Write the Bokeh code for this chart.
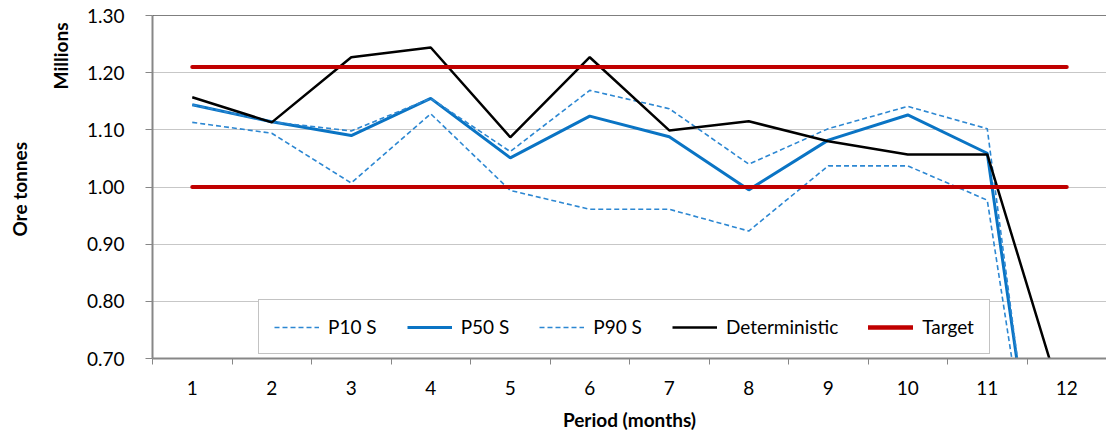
from bokeh.embed import file_html
from bokeh.models import FixedTicker, NumeralTickFormatter, Range1d, Span, Title
from bokeh.plotting import figure
from bokeh.resources import INLINE

# Monthly ore tonnes (millions) by scenario
periods = [1, 2, 3, 4, 5, 6, 7, 8, 9, 10, 11, 12]
p10_s = [1.113, 1.094, 1.007, 1.128, 0.994, 0.961, 0.961, 0.923, 1.037, 1.037, 0.977, 0.08]
p50_s = [1.144, 1.114, 1.090, 1.155, 1.051, 1.124, 1.088, 0.995, 1.082, 1.126, 1.059, 0.09]
p90_s = [1.144, 1.114, 1.098, 1.155, 1.062, 1.169, 1.137, 1.040, 1.102, 1.141, 1.102, 0.04]
deterministic = [1.157, 1.113, 1.227, 1.244, 1.087, 1.227, 1.099, 1.115, 1.080, 1.057, 1.057, 0.60]
target_upper = [1.21, 1.21, 1.21, 1.21, 1.21, 1.21, 1.21, 1.21, 1.21, 1.21, 1.21, 1.21]
target_lower = [1.00, 1.00, 1.00, 1.00, 1.00, 1.00, 1.00, 1.00, 1.00, 1.00, 1.00, 1.00]

y_ticks = [0.70, 0.80, 0.90, 1.00, 1.10, 1.20, 1.30]
x_bounds = [0.5, 1.5, 2.5, 3.5, 4.5, 5.5, 6.5, 7.5, 8.5, 9.5, 10.5, 11.5, 12.5]

FONT = "Lato"
AXIS_GREY = "#878787"
BLUE = "#0A74C4"
BLUE_DASH = "#2C87D2"

p = figure(
    width=1106, height=433,
    output_backend="svg", toolbar_location=None,
    x_range=Range1d(0.5, 12.5), y_range=Range1d(0.70, 1.30),
    min_border_left=152, min_border_right=0,
    min_border_top=15, min_border_bottom=74,
)
p.outline_line_color = None
p.background_fill_color = "white"
p.border_fill_color = "white"

# grid
p.xgrid.visible = False
p.ygrid.ticker = FixedTicker(ticks=y_ticks)
p.ygrid.grid_line_color = "#8f8f8f"
p.ygrid.grid_line_dash = "1 1"
p.ygrid.grid_line_width = 1

# y axis
ya = p.yaxis[0]
ya.ticker = FixedTicker(ticks=y_ticks)
ya.formatter = NumeralTickFormatter(format="0.00")
ya.axis_line_color = AXIS_GREY
ya.axis_line_width = 2
ya.major_tick_line_color = AXIS_GREY
ya.major_tick_out = 7
ya.major_tick_in = 0
ya.minor_tick_line_color = None
ya.major_label_standoff = 21
ya.major_label_text_font = FONT
ya.major_label_text_font_size = "19px"
ya.major_label_text_color = "black"

# unit label next to the tick labels, then the quantity label further out
title_style = dict(text_font=FONT, text_font_style="bold", text_font_size="19px",
                   text_color="black", vertical_align="middle")
p.add_layout(Title(text="Millions", align="right", offset=7, standoff=21, **title_style), "left")
p.add_layout(Title(text="Ore  tonnes", align="center", standoff=11, **title_style), "left")

# x axis: labels at month centres, tick marks between months
xa = p.xaxis[0]
xa.ticker = FixedTicker(ticks=periods, minor_ticks=x_bounds)
xa.axis_line_color = AXIS_GREY
xa.axis_line_width = 2
xa.major_tick_line_color = None
xa.major_tick_out = 0
xa.major_tick_in = 0
xa.minor_tick_line_color = AXIS_GREY
xa.minor_tick_out = 6
xa.minor_tick_in = 0
xa.major_label_standoff = 16
xa.major_label_text_font = FONT
xa.major_label_text_font_size = "19px"
xa.major_label_text_color = "black"
xa.axis_label = "Period (months)"
xa.axis_label_text_font = FONT
xa.axis_label_text_font_style = "bold"
xa.axis_label_text_font_size = "19px"
xa.axis_label_text_color = "black"
xa.axis_label_standoff = 10

# frame top edge
p.add_layout(Span(location=1.30, dimension="width", line_color="black", line_width=1))

# series
p.line(periods, p10_s, line_color=BLUE_DASH, line_width=1.6, line_dash="5 3", legend_label="P10 S")
p.line(periods, p50_s, line_color=BLUE, line_width=3, legend_label="P50 S")
p.line(periods, p90_s, line_color=BLUE_DASH, line_width=1.6, line_dash="5 3", legend_label="P90 S")
p.line(periods, deterministic, line_color="black", line_width=2.5, legend_label="Deterministic")
p.line(periods, target_upper, line_color="#C00000", line_width=4, line_cap="round", legend_label="Target")
p.line(periods, target_lower, line_color="#C00000", line_width=4, line_cap="round", legend_label="Target")

# legend
lg = p.legend[0]
lg.orientation = "horizontal"
lg.location = (106, 4)
lg.glyph_width = 45
lg.glyph_height = 20
lg.label_standoff = 9
lg.spacing = 30
lg.padding = 15
lg.margin = 0
lg.label_text_font = FONT
lg.label_text_font_size = "19px"
lg.label_text_color = "black"
lg.border_line_color = AXIS_GREY
lg.border_line_width = 1
lg.background_fill_color = "white"
lg.background_fill_alpha = 1

open("out.html", "w").write(file_html(p, INLINE))
